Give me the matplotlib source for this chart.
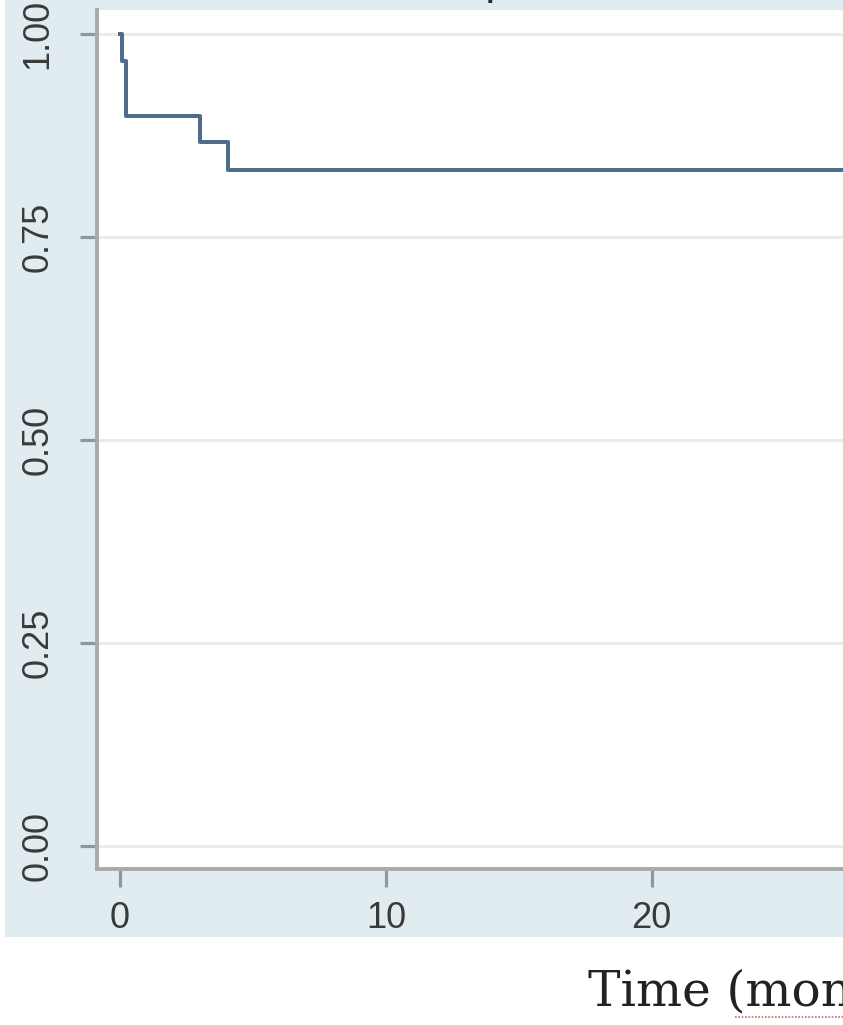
import matplotlib.pyplot as plt
from matplotlib.patches import Rectangle
from matplotlib.lines import Line2D

# Kaplan-Meier estimate (30 patients)
times = [0.0, 0.08, 0.22, 3.0, 4.05, 28.0]
surv = [1.0, 0.967, 0.9, 0.867, 0.833, 0.833]

y_ticks = [0.0, 0.25, 0.5, 0.75, 1.0]
y_labels = ["0.00", "0.25", "0.50", "0.75", "1.00"]
x_ticks = [0, 10, 20]
x_labels = ["0", "10", "20"]

W, H = 843, 1025
fig = plt.figure(figsize=(W / 100, H / 100), dpi=100)
fig.patch.set_facecolor("white")

# light blue graph region of the Stata plot
bg = Rectangle((5 / W, 88 / H), 1 - 5 / W, 1 - 88 / H, transform=fig.transFigure,
               facecolor="#e1ecf1", edgecolor="none", zorder=-5)
fig.patches.append(bg)

ax = fig.add_axes([97 / W, 156 / H, 1 - 97 / W, (1015 - 156) / H])
ax.set_zorder(2)
ax.set_facecolor("white")
ax.set_xlim(-0.87, 27.2)
ax.set_ylim(-0.028, 1.03)

for y in y_ticks:
    ax.axhline(y, color="#ebebeb", lw=2.2, zorder=1)

ax.step(times, surv, where="post", color="#4f6d88", lw=2.9, zorder=3)

for s in ["top", "right"]:
    ax.spines[s].set_visible(False)
for s in ["left", "bottom"]:
    ax.spines[s].set_color("#a9a9a9")
    ax.spines[s].set_linewidth(2.8)

ax.set_yticks(y_ticks)
ax.set_yticklabels(y_labels, rotation=90, va="center",
                   fontsize=26, family="Liberation Sans", color="#3a3a3a")
ax.set_xticks(x_ticks)
ax.set_xticklabels(x_labels, fontsize=26, family="Liberation Sans", color="#3a3a3a")
ax.tick_params(axis="y", length=12, width=2.3, color="#8c9999", pad=18)
ax.tick_params(axis="x", length=13, width=2.3, color="#8c9999", pad=10)

# title sits above the crop, only the descender of "p" shows
fig.text(431 / W, 1 + 6 / H, "Kaplan-Meier survival estimate", fontsize=32,
         family="Liberation Sans", color="#1f2d3b", ha="left", va="baseline")

fig.text(588 / W, 20 / H, "Time (months)", fontsize=35,
         family="DejaVu Serif", color="#222222", ha="left", va="baseline")
fig.lines.append(Line2D([735 / W, 1.0], [8 / H, 8 / H], transform=fig.transFigure,
                        color="#e06060", lw=1.2, ls=(0, (1, 1))))

fig.savefig("out.png", dpi=100)
